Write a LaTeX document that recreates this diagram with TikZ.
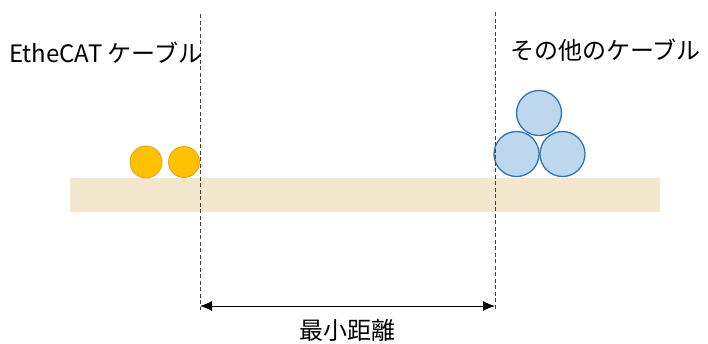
\documentclass[tikz,border=0pt]{standalone}
\usepackage{fontspec}
\setmainfont{Noto Sans CJK JP}
\usetikzlibrary{arrows.meta}
\definecolor{board}{RGB}{243,232,206}
\definecolor{orfill}{RGB}{255,192,0}
\definecolor{ordraw}{RGB}{237,160,20}
\definecolor{blfill}{RGB}{189,215,238}
\definecolor{bldraw}{RGB}{46,117,182}
\tikzset{
  guide/.style={draw=black!75, dashed, dash pattern=on 4pt off 2.5pt, line width=0.7pt},
  ecable/.style={circle, fill=orfill, draw=ordraw, line width=0.8pt, inner sep=0pt},
  ocable/.style={circle, fill=blfill, draw=bldraw, line width=1.3pt, inner sep=0pt},
  lbl/.style={font=\fontsize{24}{28}\selectfont, inner sep=0pt}
}
\begin{document}
\begin{tikzpicture}[x=1pt,y=-1pt]
\useasboundingbox (0,0) rectangle (708,343);
\fill[board] (70,178) rectangle (660,212);
\node[ecable, minimum size=32pt] (e1) at (146,162) {};
\node[ecable, minimum size=31pt] (e2) at (184,162) {};
\node[ocable, minimum size=45pt] (o1) at (516.5,154) {};
\node[ocable, minimum size=45pt] (o2) at (562.5,154) {};
\node[ocable, minimum size=45pt] (o3) at (539,113) {};
\coordinate (lt) at (200,14);
\coordinate (lb) at (200,310);
\coordinate (rt) at (495,12);
\coordinate (rb) at (495,310);
\draw[guide] (lt) -- (lb);
\draw[guide] (rt) -- (rb);
\coordinate (al) at (200,306);
\coordinate (ar) at (495,306);
\draw[line width=0.9pt, {Latex[length=12pt,width=10pt]}-{Latex[length=12pt,width=10pt]}] (al) -- (ar);
\node[lbl, anchor=west] (t1) at (9,53) {EtheCAT ケーブル};
\node[lbl, anchor=west] (t2) at (510,50) {その他のケーブル};
\node[lbl] (t3) at (347,330) {最小距離};
\end{tikzpicture}
\end{document}
